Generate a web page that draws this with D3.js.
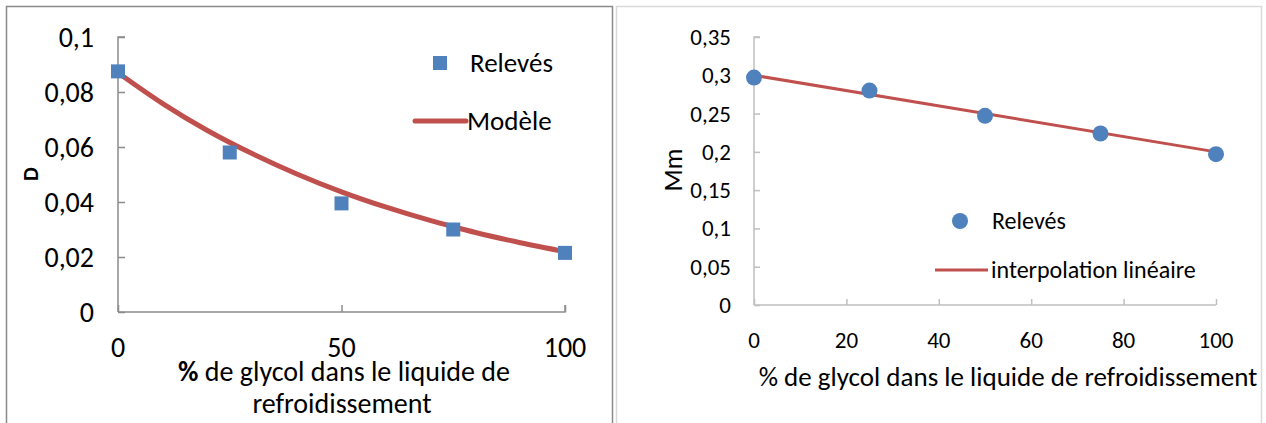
<!DOCTYPE html>
<html><head><meta charset="utf-8">
<script src="https://cdn.jsdelivr.net/npm/d3@7"></script>
<style>
html,body{margin:0;padding:0;background:#fff;}
svg{display:block;font-family:Carlito,Lato,"Open Sans",sans-serif;}
</style></head>
<body>
<svg id="c" width="1266" height="423"></svg>
<script>
// Left chart: D vs % glycol
const leftX = [0, 25, 50, 75, 100];
const leftD = [0.0875, 0.058, 0.0395, 0.030, 0.0215];
const modelX = [0, 10, 20, 30, 40, 50, 60, 70, 75, 80, 90, 100];
const modelD = [0.087, 0.0758, 0.066, 0.0576, 0.0502, 0.0437, 0.0381, 0.0332, 0.031, 0.0289, 0.0252, 0.022];
const leftYTicks = [0, 0.02, 0.04, 0.06, 0.08, 0.1];
const leftYLabels = ["0", "0,02", "0,04", "0,06", "0,08", "0,1"];
const leftXTicks = [0, 50, 100];
const leftLegend = ["Relevés", "Modèle"];
const leftYTitle = "D";
const leftXTitle = ["de glycol dans le liquide de", "refroidissement"];

// Right chart: Mm vs % glycol
const rightX = [0, 25, 50, 75, 100];
const rightMm = [0.297, 0.280, 0.247, 0.224, 0.197];
const lineX = [0, 100];
const lineMm = [0.300, 0.200];
const rightYTicks = [0, 0.05, 0.1, 0.15, 0.2, 0.25, 0.3, 0.35];
const rightYLabels = ["0", "0,05", "0,1", "0,15", "0,2", "0,25", "0,3", "0,35"];
const rightXTicks = [0, 20, 40, 60, 80, 100];
const rightLegend = ["Relevés", "interpolation linéaire"];
const rightYTitle = "Mm";
const rightXTitle = "% de glycol dans le liquide de refroidissement";

const blue = "#4F81BD", red = "#C0504D", axisCol = "#8c8c8c";
const svg = d3.select("#c");

// panel borders
svg.append("rect").attr("x", 6.5).attr("y", 6.5).attr("width", 606).attr("height", 430)
  .attr("fill", "none").attr("stroke", "#8a8a8a").attr("stroke-width", 1.5);
svg.append("rect").attr("x", 616.5).attr("y", 6.5).attr("width", 645).attr("height", 430)
  .attr("fill", "none").attr("stroke", "#d9d9d9").attr("stroke-width", 1.5);

// ---------- LEFT ----------
{
  const x = d3.scaleLinear().domain([0, 100]).range([118, 565]);
  const y = d3.scaleLinear().domain([0, 0.1]).range([312, 37]);
  const g = svg.append("g");
  const fs = 28;
  const ya = g.append("g").attr("transform", `translate(${x(0)},0)`)
    .call(d3.axisRight(y).tickValues(leftYTicks).tickSize(7).tickFormat(""));
  ya.selectAll("path,line").attr("stroke", axisCol).attr("stroke-width", 1.5);
  ya.select(".domain").attr("d", `M7,${y(0.1)}H0V${y(0)}`);
  g.selectAll(".yl").data(leftYTicks).enter().append("text")
    .attr("x", 94).attr("y", d => y(d)).attr("dy", "0.35em").attr("text-anchor", "end")
    .attr("font-size", fs).attr("fill", "#000").text((d, i) => leftYLabels[i]);
  const xa = g.append("g").attr("transform", `translate(0,${y(0)})`)
    .call(d3.axisTop(x).tickValues(leftXTicks).tickSize(7).tickFormat(""));
  xa.selectAll("path,line").attr("stroke", axisCol).attr("stroke-width", 1.5);
  xa.select(".domain").attr("d", `M${x(0)},0H${x(100)}V-7`);
  g.selectAll(".xl").data(leftXTicks).enter().append("text")
    .attr("x", d => x(d)).attr("y", 347).attr("dy", "0.35em").attr("text-anchor", "middle")
    .attr("font-size", fs).attr("fill", "#000").text(d => d);
  const t1 = g.append("text").attr("x", 344).attr("y", 371).attr("dy", "0.35em")
    .attr("text-anchor", "middle").attr("font-size", 28).attr("fill", "#000");
  t1.append("tspan").attr("font-weight", "bold").text("%");
  t1.append("tspan").text(" " + leftXTitle[0]);
  g.append("text").attr("x", 342).attr("y", 403).attr("dy", "0.35em")
    .attr("text-anchor", "middle").attr("font-size", 28).attr("fill", "#000").text(leftXTitle[1]);
  g.append("text").attr("transform", "translate(30,174) rotate(-90)").attr("dy", "0.35em")
    .attr("text-anchor", "middle").attr("font-size", 22).attr("font-weight", "bold").text(leftYTitle);
  const line = d3.line().x((d, i) => x(modelX[i])).y(d => y(d)).curve(d3.curveMonotoneX);
  g.append("path").datum(modelD).attr("d", line).attr("fill", "none")
    .attr("stroke", red).attr("stroke-width", 5).attr("stroke-linecap", "round");
  g.selectAll(".pt").data(leftD).enter().append("rect")
    .attr("x", (d, i) => x(leftX[i]) - 7).attr("y", d => y(d) - 7)
    .attr("width", 14).attr("height", 14).attr("fill", blue);
  g.append("rect").attr("x", 433).attr("y", 56).attr("width", 14).attr("height", 14).attr("fill", blue);
  g.append("text").attr("x", 470).attr("y", 63).attr("dy", "0.35em").attr("font-size", 27).text(leftLegend[0]);
  g.append("line").attr("x1", 415).attr("x2", 466).attr("y1", 121).attr("y2", 121)
    .attr("stroke", red).attr("stroke-width", 5).attr("stroke-linecap", "round");
  g.append("text").attr("x", 467).attr("y", 121).attr("dy", "0.35em").attr("font-size", 27).text(leftLegend[1]);
}

// ---------- RIGHT ----------
{
  const x = d3.scaleLinear().domain([0, 100]).range([754, 1216]);
  const y = d3.scaleLinear().domain([0, 0.35]).range([305, 37]);
  const g = svg.append("g");
  const fs = 23;
  const ya = g.append("g").attr("transform", `translate(${x(0)},0)`)
    .call(d3.axisRight(y).tickValues(rightYTicks).tickSize(6).tickFormat(""));
  ya.selectAll("path,line").attr("stroke", "#bfbfbf").attr("stroke-width", 1.5);
  ya.select(".domain").attr("d", `M6,${y(0.35)}H0V${y(0)}`);
  g.selectAll(".yl").data(rightYTicks).enter().append("text")
    .attr("x", 731).attr("y", d => y(d)).attr("dy", "0.35em").attr("text-anchor", "end")
    .attr("font-size", fs).attr("fill", "#000").text((d, i) => rightYLabels[i]);
  const xa = g.append("g").attr("transform", `translate(0,${y(0)})`)
    .call(d3.axisTop(x).tickValues(rightXTicks).tickSize(6).tickFormat(""));
  xa.selectAll("path,line").attr("stroke", "#bfbfbf").attr("stroke-width", 1.5);
  xa.select(".domain").attr("d", `M${x(0)},0H${x(100)}`);
  g.selectAll(".xl").data(rightXTicks).enter().append("text")
    .attr("x", d => x(d)).attr("y", 340).attr("dy", "0.35em").attr("text-anchor", "middle")
    .attr("font-size", fs).attr("fill", "#000").text(d => d);
  g.append("text").attr("x", 1008).attr("y", 377).attr("dy", "0.35em")
    .attr("text-anchor", "middle").attr("font-size", 27).attr("fill", "#000").text(rightXTitle);
  g.append("text").attr("transform", "translate(673,170) rotate(-90)").attr("dy", "0.35em")
    .attr("text-anchor", "middle").attr("font-size", 26).text(rightYTitle);
  const line = d3.line().x((d, i) => x(lineX[i])).y(d => y(d));
  g.append("path").datum(lineMm).attr("d", line).attr("fill", "none")
    .attr("stroke", red).attr("stroke-width", 3);
  g.selectAll(".pt").data(rightMm).enter().append("circle")
    .attr("cx", (d, i) => x(rightX[i])).attr("cy", d => y(d)).attr("r", 8).attr("fill", blue);
  g.append("circle").attr("cx", 960).attr("cy", 221).attr("r", 8).attr("fill", blue);
  g.append("text").attr("x", 992).attr("y", 221).attr("dy", "0.35em").attr("font-size", 24).text(rightLegend[0]);
  g.append("line").attr("x1", 935).attr("x2", 988).attr("y1", 270).attr("y2", 270)
    .attr("stroke", red).attr("stroke-width", 3);
  g.append("text").attr("x", 991).attr("y", 270).attr("dy", "0.35em").attr("font-size", 24).text(rightLegend[1]);
}
</script>
</body></html>
